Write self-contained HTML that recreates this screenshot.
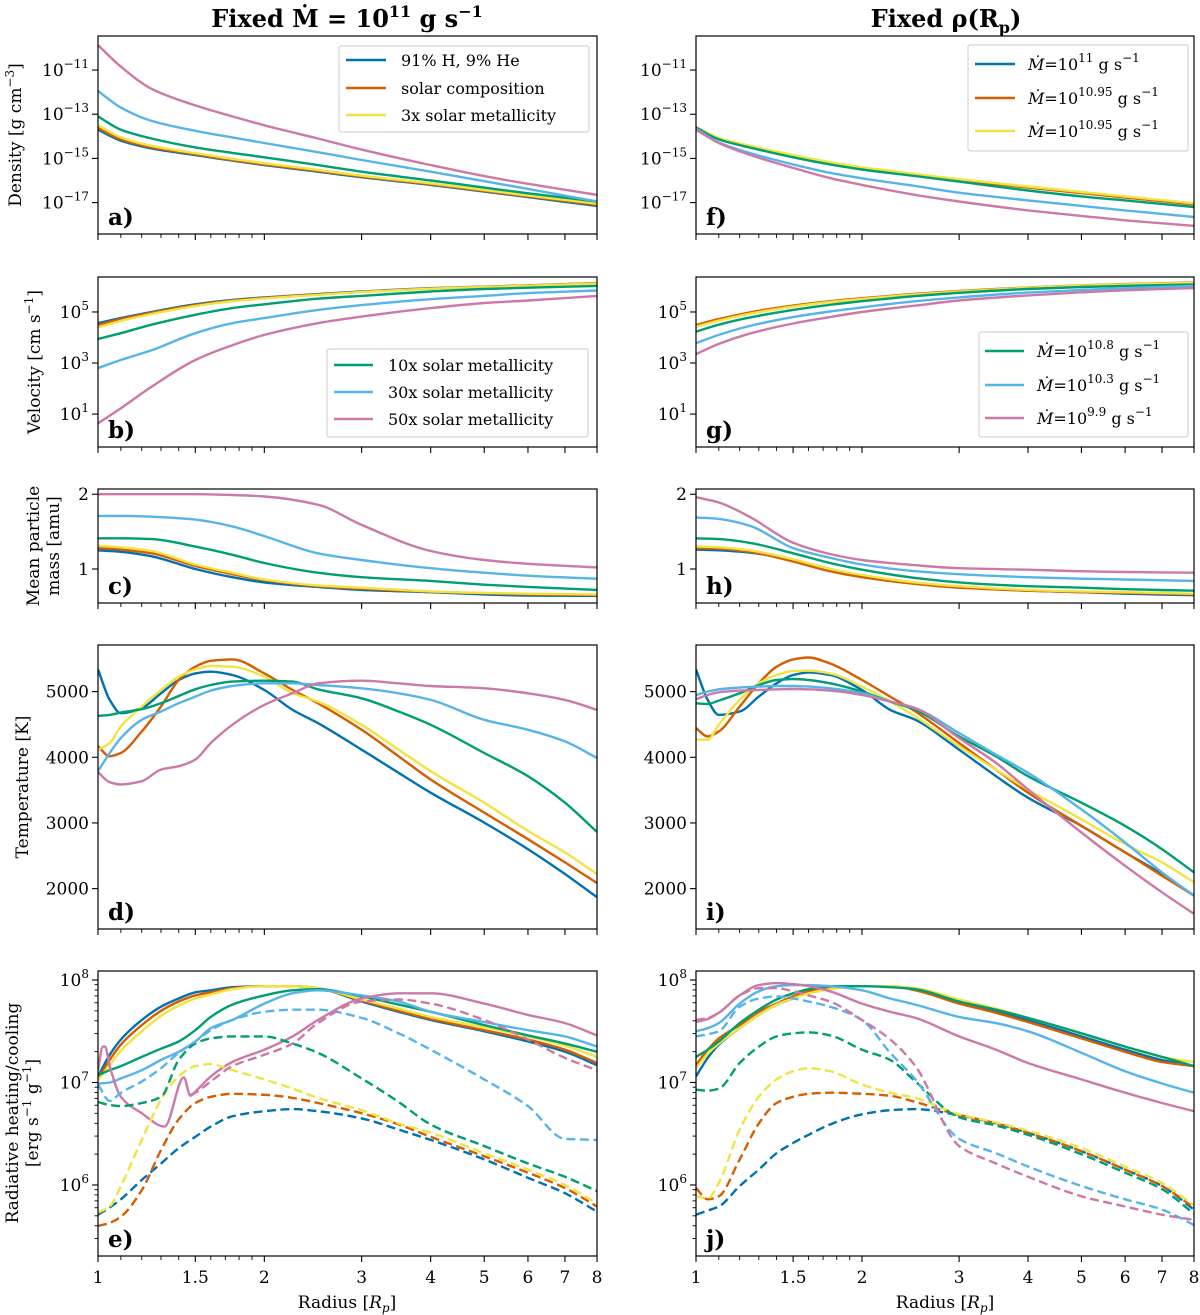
<!DOCTYPE html>
<html><head><meta charset="utf-8"><title>Atmosphere profiles</title>
<style>
html,body{margin:0;padding:0;background:#fff;}
svg{display:block;font-family:"DejaVu Serif","Liberation Serif",serif;}
</style></head>
<body>
<svg id="fig" width="1200" height="1315" viewBox="0 0 1200 1315" xmlns="http://www.w3.org/2000/svg">
<text x="347" y="27" text-anchor="middle" font-size="24" font-weight="bold">Fixed <tspan font-style="normal">Ṁ</tspan> = 10<tspan dy="-10" font-size="16">11</tspan><tspan dy="10"> g s</tspan><tspan dy="-10" font-size="16">−1</tspan></text>
<text x="946" y="27" text-anchor="middle" font-size="24" font-weight="bold">Fixed ρ(R<tspan dy="6" font-size="16">p</tspan><tspan dy="-6">)</tspan></text>
<g id="plots"></g>
</svg>
<script>
const XA = [1,1.1,1.25,1.5,1.75,2,2.5,3,4,5,6,8];
const XB = [1,1.05,1.1,1.2,1.3,1.4,1.5,1.6,1.75,2,2.25,2.5,3,3.5,4,5,6,7,8];
const seriesNames = ['blue','orange','yellow','green','sky','pink'];
const colors = ['#0072B2','#D55E00','#F0E442','#009E73','#56B4E9','#CC79A7'];

const densityLeft = [
[-13.7,-14.2,-14.55,-14.85,-15.1,-15.3,-15.6,-15.85,-16.2,-16.5,-16.75,-17.15],
[-13.62,-14.14,-14.5,-14.81,-15.07,-15.27,-15.57,-15.82,-16.17,-16.47,-16.72,-17.1],
[-13.5,-14.05,-14.43,-14.76,-15.02,-15.22,-15.52,-15.78,-16.13,-16.43,-16.68,-17.05],
[-13.1,-13.7,-14.1,-14.5,-14.75,-14.95,-15.3,-15.6,-16.0,-16.32,-16.58,-16.95],
[-11.95,-12.7,-13.3,-13.75,-14.05,-14.3,-14.72,-15.07,-15.6,-16.03,-16.38,-16.95],
[-9.87,-10.85,-11.85,-12.6,-13.1,-13.5,-14.1,-14.6,-15.3,-15.8,-16.15,-16.65]];
const densityRight = [
[-13.6,-14.1,-14.45,-14.88,-15.2,-15.43,-15.73,-15.97,-16.3,-16.55,-16.75,-17.06],
[-13.62,-14.12,-14.47,-14.9,-15.22,-15.45,-15.75,-15.99,-16.32,-16.57,-16.77,-17.08],
[-13.58,-14.07,-14.42,-14.85,-15.17,-15.4,-15.7,-15.94,-16.27,-16.52,-16.72,-17.03],
[-13.6,-14.14,-14.5,-14.95,-15.27,-15.5,-15.8,-16.05,-16.45,-16.72,-16.9,-17.2],
[-13.65,-14.28,-14.75,-15.27,-15.65,-15.9,-16.25,-16.55,-16.9,-17.15,-17.35,-17.65],
[-13.7,-14.3,-14.83,-15.43,-15.89,-16.2,-16.65,-16.95,-17.35,-17.6,-17.8,-18.05]];
const velocityLeft = [
[4.56,4.76,5.0,5.3,5.47,5.57,5.7,5.8,5.93,5.99,6.04,6.13],
[4.5,4.72,4.97,5.27,5.45,5.55,5.69,5.79,5.92,5.99,6.04,6.13],
[4.4,4.65,4.92,5.23,5.42,5.53,5.67,5.78,5.91,5.98,6.03,6.12],
[3.94,4.17,4.5,4.89,5.15,5.3,5.52,5.63,5.8,5.9,5.95,6.02],
[2.8,3.12,3.5,4.17,4.56,4.76,5.08,5.27,5.5,5.63,5.74,5.84],
[0.64,1.23,2.07,3.12,3.7,4.1,4.56,4.82,5.15,5.35,5.45,5.63]];
const velocityRight = [
[4.45,4.68,4.95,5.22,5.4,5.52,5.7,5.81,5.95,6.03,6.08,6.14],
[4.49,4.72,4.98,5.25,5.42,5.54,5.71,5.82,5.96,6.04,6.09,6.15],
[4.42,4.66,4.93,5.21,5.39,5.51,5.69,5.8,5.95,6.03,6.08,6.14],
[4.23,4.5,4.78,5.08,5.28,5.42,5.62,5.75,5.9,5.98,6.02,6.08],
[3.78,4.1,4.45,4.8,5.02,5.18,5.42,5.57,5.76,5.86,5.93,6.02],
[3.35,3.75,4.15,4.55,4.8,5.0,5.25,5.45,5.65,5.77,5.85,5.94]];
const massLeft = [
[1.25,1.23,1.17,1.0,0.89,0.82,0.76,0.72,0.69,0.66,0.645,0.64],
[1.28,1.26,1.21,1.04,0.93,0.85,0.77,0.735,0.695,0.675,0.66,0.65],
[1.31,1.29,1.24,1.06,0.95,0.86,0.78,0.75,0.7,0.68,0.67,0.66],
[1.41,1.41,1.40,1.30,1.19,1.08,0.95,0.89,0.84,0.79,0.76,0.72],
[1.71,1.71,1.70,1.66,1.57,1.44,1.21,1.12,1.01,0.95,0.91,0.87],
[2.0,2.0,2.0,2.0,1.99,1.97,1.86,1.59,1.24,1.12,1.07,1.02]];
const massRight = [
[1.26,1.25,1.22,1.12,1.0,0.91,0.81,0.76,0.71,0.69,0.67,0.65],
[1.28,1.27,1.23,1.1,0.97,0.89,0.8,0.75,0.71,0.69,0.68,0.66],
[1.30,1.29,1.25,1.13,1.0,0.92,0.82,0.77,0.72,0.7,0.69,0.67],
[1.41,1.40,1.35,1.21,1.08,0.99,0.88,0.82,0.77,0.75,0.73,0.71],
[1.69,1.67,1.58,1.28,1.15,1.06,0.97,0.93,0.89,0.87,0.86,0.84],
[1.96,1.89,1.7,1.35,1.2,1.12,1.05,1.01,0.99,0.97,0.96,0.95]];
const tempLeft = [
[5338,4874,4672,4750,4975,5177,5278,5303,5253,5025,4722,4520,4116,3763,3460,3005,2601,2222,1869],
[4167,4015,4066,4394,4773,5177,5379,5470,5490,5278,5025,4823,4419,4015,3662,3157,2753,2399,2086],
[4116,4217,4470,4773,5025,5227,5338,5389,5379,5227,4975,4848,4495,4116,3788,3308,2879,2551,2222],
[4631,4646,4682,4732,4823,4934,5035,5101,5152,5167,5152,5035,4899,4697,4495,4066,3712,3308,2864],
[3788,4066,4293,4571,4697,4823,4924,5015,5086,5126,5126,5101,5051,4975,4874,4571,4419,4242,3990],
[3773,3621,3586,3636,3813,3864,3965,4217,4495,4798,4975,5126,5167,5126,5086,5051,4975,4874,4722]];
const tempRight = [
[5338,4874,4646,4697,4924,5126,5253,5293,5253,5025,4722,4571,4116,3712,3384,2955,2551,2222,1894],
[4444,4318,4394,4773,5126,5379,5490,5520,5429,5177,4924,4697,4217,3813,3460,2955,2551,2197,1894],
[4268,4268,4495,4874,5126,5253,5313,5318,5278,5076,4848,4621,4167,3813,3510,3056,2677,2399,2096],
[4823,4813,4864,4975,5101,5177,5192,5177,5126,5000,4848,4722,4318,4015,3712,3308,2955,2601,2247],
[4949,5000,5035,5061,5076,5086,5086,5076,5051,4975,4848,4747,4369,4040,3763,3207,2702,2247,1894],
[4884,4949,4990,5015,5025,5035,5040,5035,5015,4949,4848,4747,4293,3914,3510,2854,2348,1944,1616]];
const heatLeft = [
[7.06,7.27,7.42,7.61,7.74,7.82,7.88,7.90,7.93,7.94,7.94,7.92,7.79,7.69,7.61,7.50,7.40,7.30,7.17],
[7.04,7.22,7.37,7.56,7.70,7.79,7.85,7.88,7.92,7.94,7.94,7.92,7.80,7.70,7.62,7.51,7.42,7.32,7.19],
[7.02,7.17,7.31,7.50,7.65,7.75,7.82,7.86,7.91,7.94,7.94,7.92,7.81,7.72,7.64,7.54,7.45,7.36,7.25],
[7.07,7.12,7.16,7.25,7.33,7.40,7.51,7.64,7.76,7.85,7.90,7.91,7.84,7.76,7.69,7.56,7.46,7.38,7.30],
[6.99,7.0,7.04,7.12,7.22,7.30,7.40,7.53,7.61,7.77,7.87,7.90,7.85,7.79,7.69,7.59,7.51,7.45,7.35]];
const heatLeftPinkX = [1,1.02,1.03,1.05,1.1,1.2,1.32,1.43,1.47,1.5,1.6,1.75,2,2.25,2.5,3,3.5,4,5,6,7,8];
const heatLeftPink = [7.12,7.35,7.35,7.16,6.86,6.70,6.57,7.05,6.87,6.91,7.06,7.20,7.32,7.45,7.61,7.82,7.87,7.87,7.77,7.66,7.58,7.46];
const coolLeft = [
[5.71,5.78,5.86,6.05,6.21,6.36,6.47,6.57,6.67,6.72,6.74,6.72,6.65,6.54,6.44,6.25,6.07,5.92,5.74],
[5.60,5.63,5.69,5.95,6.34,6.64,6.80,6.86,6.89,6.88,6.85,6.80,6.70,6.59,6.47,6.28,6.12,5.97,5.79],
[5.73,5.79,5.99,6.44,6.83,7.06,7.16,7.18,7.12,7.03,6.94,6.85,6.73,6.60,6.51,6.31,6.15,6.00,5.82],
[6.81,6.78,6.77,6.80,6.86,7.22,7.38,7.43,7.45,7.45,7.38,7.29,7.04,6.81,6.59,6.38,6.21,6.08,5.94],
[6.98,6.82,6.90,7.01,7.14,7.29,7.40,7.51,7.61,7.69,7.71,7.71,7.63,7.48,7.32,7.03,6.77,6.45,6.44]];
const coolLeftPinkX = [1.47,1.5,1.6,1.75,2,2.25,2.5,3,3.5,4,5,6,7,8];
const coolLeftPink = [6.88,6.90,7.01,7.16,7.27,7.38,7.58,7.79,7.81,7.77,7.61,7.42,7.24,7.12];
const heatRight = [
[7.06,7.24,7.37,7.53,7.66,7.76,7.82,7.88,7.92,7.94,7.94,7.91,7.79,7.69,7.61,7.45,7.32,7.22,7.16],
[7.17,7.32,7.43,7.56,7.69,7.77,7.84,7.89,7.92,7.94,7.94,7.90,7.77,7.68,7.59,7.43,7.30,7.20,7.16],
[7.14,7.28,7.38,7.53,7.66,7.76,7.82,7.87,7.91,7.94,7.94,7.92,7.81,7.72,7.63,7.48,7.35,7.25,7.20],
[7.25,7.32,7.40,7.58,7.71,7.81,7.87,7.91,7.94,7.94,7.93,7.91,7.79,7.71,7.63,7.48,7.35,7.25,7.16],
[7.50,7.53,7.58,7.77,7.89,7.94,7.95,7.95,7.94,7.90,7.82,7.76,7.64,7.58,7.50,7.29,7.11,6.99,6.90],
[7.59,7.62,7.68,7.85,7.95,7.97,7.96,7.94,7.89,7.77,7.69,7.63,7.45,7.32,7.19,7.03,6.90,6.80,6.72]];
const coolRight = [
[5.71,5.75,5.79,5.99,6.15,6.31,6.41,6.49,6.59,6.69,6.73,6.74,6.68,6.60,6.51,6.33,6.15,5.99,5.76],
[5.97,5.86,5.89,6.25,6.60,6.80,6.86,6.89,6.90,6.89,6.87,6.81,6.68,6.60,6.51,6.33,6.15,5.99,5.78],
[5.89,5.87,6.02,6.54,6.86,7.03,7.11,7.14,7.11,6.98,6.90,6.85,6.69,6.61,6.53,6.36,6.18,6.02,5.80],
[6.93,6.92,6.94,7.19,7.35,7.45,7.48,7.49,7.46,7.32,7.22,7.01,6.66,6.58,6.49,6.30,6.12,5.96,5.72],
[7.45,7.47,7.50,7.74,7.82,7.84,7.82,7.79,7.74,7.61,7.29,7.03,6.45,6.31,6.18,5.99,5.86,5.76,5.61],
[7.61,7.63,7.68,7.85,7.92,7.92,7.89,7.85,7.79,7.61,7.42,7.16,6.38,6.21,6.08,5.89,5.79,5.71,5.66]];

const xTickMajor = [1,1.5,2,3,4,5,6,7,8];
const xTickLabels = ['1','1.5','2','3','4','5','6','7','8'];
const xTickMinor = [1.1,1.2,1.3,1.4,1.6,1.7,1.8,1.9];

const NS = 'http://www.w3.org/2000/svg';
const root = document.getElementById('plots');
function el(tag, attrs, parent){
  const e = document.createElementNS(NS, tag);
  for (const k in attrs) e.setAttribute(k, attrs[k]);
  (parent||root).appendChild(e);
  return e;
}
const COLS = [{x0:98,x1:597},{x0:696,x1:1194}];
let clipId = 0;

function makePanel(col, y0, y1, vTop, vBot, letter, name){
  const c = COLS[col];
  const g = el('g', {});
  
  
  const xs = r => c.x0 + Math.log(r)/Math.log(8)*(c.x1-c.x0);
  const ys = v => y0 + (vTop - v)/(vTop - vBot)*(y1-y0);
  const id = 'clip' + (clipId++);
  const cp = el('clipPath', {id:id}, g);
  el('rect', {x:c.x0, y:y0, width:c.x1-c.x0, height:y1-y0}, cp);
  const lines = el('g', {'clip-path':'url(#'+id+')'}, g);
  return {g, xs, ys, lines, c, y0, y1, letter, name};
}

// monotone cubic (Fritsch-Carlson) in pixel space, x increasing
function smoothPath(pts){
  const n = pts.length;
  const dx = [], m = [], t = new Array(n);
  for (let i=0;i<n-1;i++){ dx.push(pts[i+1][0]-pts[i][0]); m.push((pts[i+1][1]-pts[i][1])/dx[i]); }
  t[0] = m[0]; t[n-1] = m[n-2];
  for (let i=1;i<n-1;i++){
    if (m[i-1]*m[i] <= 0) t[i] = 0;
    else { const w1 = 2*dx[i]+dx[i-1], w2 = dx[i]+2*dx[i-1]; t[i] = (w1+w2)/(w1/m[i-1]+w2/m[i]); }
  }
  let d = 'M' + pts[0][0].toFixed(1) + ',' + pts[0][1].toFixed(1);
  for (let i=0;i<n-1;i++){
    const h = dx[i]/3;
    d += 'C' + (pts[i][0]+h).toFixed(1)+','+(pts[i][1]+t[i]*h).toFixed(1)+' '+(pts[i+1][0]-h).toFixed(1)+','+(pts[i+1][1]-t[i+1]*h).toFixed(1)+' '+pts[i+1][0].toFixed(1)+','+pts[i+1][1].toFixed(1);
  }
  return d;
}

function drawSeries(P, xArr, vals, ci, dashed, label){
  const pts = xArr.map((r,i)=>[P.xs(r), P.ys(vals[i])]);
  const p = el('path', {d:smoothPath(pts), fill:'none', stroke:colors[ci], 'stroke-width':2.4, 'stroke-linejoin':'round'}, P.lines);
  if (dashed) p.setAttribute('stroke-dasharray','9,4.5');
  
  
}

function finishPanel(P, yTicks, yLabelFn, minorTicks, showX){
  const c = P.c;
  const fr = el('rect', {x:c.x0, y:P.y0, width:c.x1-c.x0, height:P.y1-P.y0, fill:'none', stroke:'#000', 'stroke-width':1.2}, P.g);
  
  
  xTickMajor.forEach((r,i)=>{
    const x = P.xs(r);
    el('line', {x1:x, x2:x, y1:P.y1, y2:P.y1+6, stroke:'#000', 'stroke-width':1.1}, P.g);
    if (showX){
      const t = el('text', {x:x, y:P.y1+27, 'text-anchor':'middle', 'font-size':17}, P.g);
      t.textContent = xTickLabels[i];
      
      
    }
  });
  xTickMinor.forEach(r=>{
    const x = P.xs(r);
    el('line', {x1:x, x2:x, y1:P.y1, y2:P.y1+4, stroke:'#000', 'stroke-width':0.9}, P.g);
  });
  yTicks.forEach(v=>{
    const y = P.ys(v);
    el('line', {x1:c.x0-6, x2:c.x0, y1:y, y2:y, stroke:'#000', 'stroke-width':1.1}, P.g);
    const t = el('text', {x:c.x0-9, y:y+6, 'text-anchor':'end', 'font-size':17}, P.g);
    yLabelFn(t, v);
    
    
  });
  (minorTicks||[]).forEach(v=>{
    const y = P.ys(v);
    if (y < P.y0 || y > P.y1) return;
    el('line', {x1:c.x0-3.5, x2:c.x0, y1:y, y2:y, stroke:'#000', 'stroke-width':0.9}, P.g);
  });
  const lt = el('text', {x:c.x0+10, y:P.y1-9, 'font-size':23, 'font-weight':'bold'}, P.g);
  lt.textContent = P.letter;
  
  
}

function powLabel(t, v){
  const s = v < 0 ? '−' + Math.abs(v) : String(v);
  const a = document.createElementNS(NS,'tspan'); a.textContent = '10'; t.appendChild(a);
  const b = document.createElementNS(NS,'tspan'); b.setAttribute('dy','-8'); b.setAttribute('font-size','12'); b.textContent = s; t.appendChild(b);
}
function plainLabel(t, v){ t.textContent = String(v); }

const decadeMinors = [];
[5,6,7].forEach(d=>{ for(let k=2;k<=9;k++) decadeMinors.push(d+Math.log10(k)); });

function legend(P, x0, y0, w, h, entries, lineX0, lineX1, textX){
  const g = el('g', {}, P.g);
  
  
  el('rect', {x:x0, y:y0, width:w, height:h, fill:'#fff', 'fill-opacity':0.85, stroke:'#ccc', 'stroke-width':1, rx:2}, g);
  entries.forEach(e=>{
    el('line', {x1:lineX0, x2:lineX1, y1:e.y, y2:e.y, stroke:colors[e.ci], 'stroke-width':2.6}, g);
    const t = el('text', {x:textX, y:e.y+6, 'font-size':16}, g);
    
    
    if (e.exp){
      const a = document.createElementNS(NS,'tspan'); a.setAttribute('font-style','italic'); a.textContent = 'Ṁ'; t.appendChild(a);
      const b = document.createElementNS(NS,'tspan'); b.textContent = '=10'; t.appendChild(b);
      const c = document.createElementNS(NS,'tspan'); c.setAttribute('dy','-8'); c.setAttribute('font-size','12'); c.textContent = e.exp; t.appendChild(c);
      const d = document.createElementNS(NS,'tspan'); d.setAttribute('dy','8'); d.textContent = ' g s'; t.appendChild(d);
      const f = document.createElementNS(NS,'tspan'); f.setAttribute('dy','-8'); f.setAttribute('font-size','12'); f.textContent = '−1'; t.appendChild(f);
    } else t.textContent = e.text;
  });
}

const rows = [
  {y0:36, y1:234, top:-9.46, bot:-18.42},
  {y0:277, y1:447, top:6.37, bot:-0.29},
  {y0:489, y1:603, top:2.07, bot:0.545},
  {y0:645, y1:929, top:5710, bot:1385},
  {y0:971, y1:1256, top:8.088, bot:5.307}
];
const dataSets = [[densityLeft,densityRight],[velocityLeft,velocityRight],[massLeft,massRight],[tempLeft,tempRight]];
const letters = [['a)','f)'],['b)','g)'],['c)','h)'],['d)','i)'],['e)','j)']];
const panelNames = [['density-left','density-right'],['velocity-left','velocity-right'],['mass-left','mass-right'],['temperature-left','temperature-right'],['heating-left','heating-right']];
const yTickSets = [[-11,-13,-15,-17],[5,3,1],[2,1],[5000,4000,3000,2000],[8,7,6]];
const labelFns = [powLabel,powLabel,plainLabel,plainLabel,powLabel];

for (let row=0; row<5; row++){
  for (let col=0; col<2; col++){
    const R = rows[row];
    const P = makePanel(col, R.y0, R.y1, R.top, R.bot, letters[row][col], panelNames[row][col]);
    if (row < 4){
      const data = dataSets[row][col];
      const xArr = row === 3 ? XB : XA;
      data.forEach((vals,ci)=> drawSeries(P, xArr, vals, ci, false, seriesNames[ci]+'-line'));
    } else if (col === 0){
      heatLeft.forEach((vals,ci)=> drawSeries(P, XB, vals, ci, false, seriesNames[ci]+'-heating'));
      drawSeries(P, heatLeftPinkX, heatLeftPink, 5, false, 'pink-heating');
      coolLeft.forEach((vals,ci)=> drawSeries(P, XB, vals, ci, true, seriesNames[ci]+'-cooling'));
      drawSeries(P, coolLeftPinkX, coolLeftPink, 5, true, 'pink-cooling');
    } else {
      heatRight.forEach((vals,ci)=> drawSeries(P, XB, vals, ci, false, seriesNames[ci]+'-heating'));
      coolRight.forEach((vals,ci)=> drawSeries(P, XB, vals, ci, true, seriesNames[ci]+'-cooling'));
    }
    finishPanel(P, yTickSets[row], labelFns[row], row===4 ? decadeMinors : null, row===4);
    if (row===0 && col===0) legend(P, 339, 46, 250, 86, [{y:60,ci:0,text:'91% H, 9% He'},{y:88,ci:1,text:'solar composition'},{y:115,ci:2,text:'3x solar metallicity'}], 346, 386, 401);
    if (row===1 && col===0) legend(P, 327, 349, 261, 88, [{y:365,ci:3,text:'10x solar metallicity'},{y:392,ci:4,text:'30x solar metallicity'},{y:419,ci:5,text:'50x solar metallicity'}], 334, 373, 388);
    if (row===0 && col===1) legend(P, 968, 45, 220, 106, [{y:64,ci:0,exp:'11'},{y:98,ci:1,exp:'10.95'},{y:131,ci:2,exp:'10.95'}], 975, 1015, 1028);
    if (row===1 && col===1) legend(P, 979, 332, 209, 105, [{y:351,ci:3,exp:'10.8'},{y:385,ci:4,exp:'10.3'},{y:418,ci:5,exp:'9.9'}], 985, 1024, 1037);
  }
}

function yTitle(lines, cx, cy, name){
  const t = el('text', {transform:'translate('+cx+','+cy+') rotate(-90)', 'text-anchor':'middle', 'font-size':17});
  
  
  lines.forEach((ln,i)=>{
    const ts = document.createElementNS(NS,'tspan');
    ts.setAttribute('x', 0);
    ts.setAttribute('dy', i===0 ? 0 : 20);
    ts.innerHTML = ln;
    t.appendChild(ts);
  });
}
yTitle(['Density [g cm<tspan dy="-7" font-size="12">−3</tspan><tspan dy="7">]</tspan>'], 21, 135, 'density-axis-title');
yTitle(['Velocity [cm s<tspan dy="-7" font-size="12">−1</tspan><tspan dy="7">]</tspan>'], 40, 362, 'velocity-axis-title');
yTitle(['Mean particle','mass [amu]'], 39, 546, 'mass-axis-title');
yTitle(['Temperature [K]'], 28, 787, 'temperature-axis-title');
yTitle(['Radiative heating/cooling','[erg s<tspan dy="-7" font-size="12">−1</tspan><tspan dy="7"> g</tspan><tspan dy="-7" font-size="12">−1</tspan><tspan dy="7">]</tspan>'], 18, 1113, 'heating-axis-title');
[[347,'x-axis-title-left'],[945,'x-axis-title-right']].forEach(([x,n])=>{
  const t = el('text', {x:x, y:1308, 'text-anchor':'middle', 'font-size':17});
  
  
  t.innerHTML = 'Radius [<tspan font-style="italic">R</tspan><tspan dy="4" font-size="12" font-style="italic">p</tspan><tspan dy="-4">]</tspan>';
});
</script>
</body></html>
